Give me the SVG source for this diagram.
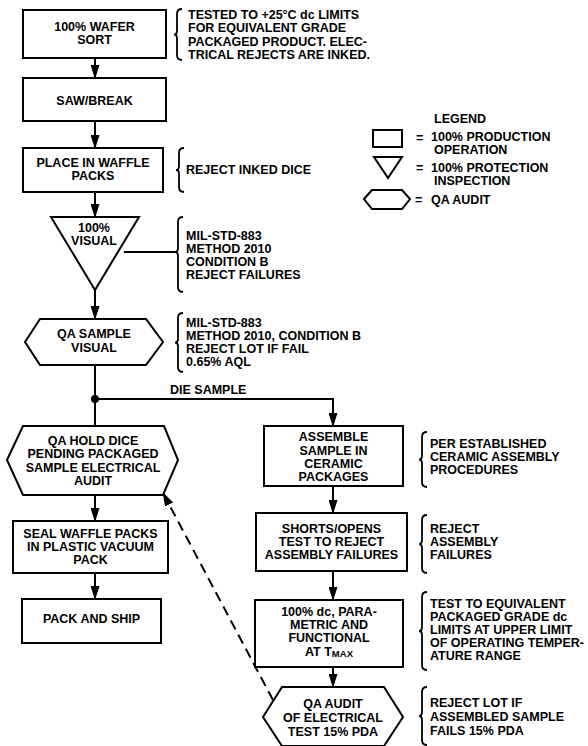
<svg xmlns="http://www.w3.org/2000/svg" width="588" height="746" viewBox="0 0 588 746">
<defs>
<marker id="arrow" markerUnits="userSpaceOnUse" markerWidth="14" markerHeight="9" refX="13" refY="4.5" orient="auto"><path d="M0,0 L14,4.5 L0,9 Z" fill="#000"/></marker>
</defs>
<style>
.shape{fill:#fff;stroke:#000;stroke-width:2;stroke-linejoin:miter}
.t{font-family:"Liberation Sans",Arial,sans-serif;font-weight:bold;font-size:12.5px;fill:#000}
.c{text-anchor:middle}
.sub{font-size:9.5px}
.wire{fill:none;stroke:#000;stroke-width:2}
.dash{stroke-dasharray:10 6}
.brace{fill:none;stroke:#000;stroke-width:1.8}
</style>
<rect width="588" height="746" fill="#fff"/>

<!-- connectors -->
<g id="connectors">
  <line class="wire" x1="95" y1="58" x2="95" y2="78" marker-end="url(#arrow)"/>
  <line class="wire" x1="95" y1="121" x2="95" y2="148" marker-end="url(#arrow)"/>
  <line class="wire" x1="95" y1="192" x2="95" y2="217" marker-end="url(#arrow)"/>
  <line class="wire" x1="95" y1="290" x2="95" y2="319" marker-end="url(#arrow)"/>
  <line class="wire" x1="95" y1="365" x2="95" y2="426"/>
  <circle cx="95" cy="399" r="4" fill="#000"/>
  <polyline class="wire" points="95,399 333,399 333,426" marker-end="url(#arrow)"/>
  <line class="wire" x1="95" y1="495" x2="95" y2="521" marker-end="url(#arrow)"/>
  <line class="wire" x1="95" y1="573" x2="95" y2="599" marker-end="url(#arrow)"/>
  <line class="wire" x1="333" y1="486" x2="333" y2="513" marker-end="url(#arrow)"/>
  <line class="wire" x1="333" y1="571" x2="333" y2="600" marker-end="url(#arrow)"/>
  <line class="wire" x1="333" y1="667" x2="333" y2="687" marker-end="url(#arrow)"/>
  <line class="wire dash" x1="273" y1="700" x2="163" y2="493" marker-end="url(#arrow)"/>
  <line class="wire" x1="124" y1="252" x2="175" y2="252"/>
  <text class="t" x="170" y="394">DIE SAMPLE</text>
</g>

<!-- left column -->
<g id="wafer-sort">
  <rect class="shape" x="23" y="10" width="143" height="48"/>
  <text class="t c" x="94.5" y="31">100% WAFER</text>
  <text class="t c" x="94.5" y="44">SORT</text>
</g>
<g id="saw-break">
  <rect class="shape" x="23" y="78" width="143" height="43"/>
  <text class="t c" x="94.5" y="105">SAW/BREAK</text>
</g>
<g id="waffle-packs">
  <rect class="shape" x="23" y="148" width="140" height="44"/>
  <text class="t c" x="93" y="167">PLACE IN WAFFLE</text>
  <text class="t c" x="93" y="180">PACKS</text>
</g>
<g id="visual-100">
  <polygon class="shape" points="51,217 139,217 95,290"/>
  <text class="t c" x="94" y="232">100%</text>
  <text class="t c" x="94" y="245">VISUAL</text>
</g>
<g id="qa-sample-visual">
  <polygon class="shape" points="25,342 40,319 146,319 163,342 146,365 40,365"/>
  <text class="t c" x="94" y="338">QA SAMPLE</text>
  <text class="t c" x="94" y="352">VISUAL</text>
</g>
<g id="qa-hold">
  <polygon class="shape" points="7,460 23,426 164,426 178,460 163,495 23,495"/>
  <text class="t c" x="93" y="445">QA HOLD DICE</text>
  <text class="t c" x="93" y="458">PENDING PACKAGED</text>
  <text class="t c" x="93" y="472">SAMPLE ELECTRICAL</text>
  <text class="t c" x="93" y="485">AUDIT</text>
</g>
<g id="seal-packs">
  <rect class="shape" x="13" y="521" width="155" height="52"/>
  <text class="t c" x="90.5" y="538">SEAL WAFFLE PACKS</text>
  <text class="t c" x="90.5" y="551">IN PLASTIC VACUUM</text>
  <text class="t c" x="90.5" y="564">PACK</text>
</g>
<g id="pack-ship">
  <rect class="shape" x="22" y="599" width="139" height="44"/>
  <text class="t c" x="91.5" y="623">PACK AND SHIP</text>
</g>

<!-- right column -->
<g id="assemble">
  <rect class="shape" x="264" y="426" width="139" height="60"/>
  <text class="t c" x="333.5" y="441">ASSEMBLE</text>
  <text class="t c" x="333.5" y="454.5">SAMPLE IN</text>
  <text class="t c" x="333.5" y="468">CERAMIC</text>
  <text class="t c" x="333.5" y="481">PACKAGES</text>
</g>
<g id="shorts-opens">
  <rect class="shape" x="256" y="513" width="151" height="58"/>
  <text class="t c" x="331.5" y="533">SHORTS/OPENS</text>
  <text class="t c" x="331.5" y="546">TEST TO REJECT</text>
  <text class="t c" x="331.5" y="559">ASSEMBLY FAILURES</text>
</g>
<g id="dc-parametric">
  <rect class="shape" x="255" y="600" width="148" height="67"/>
  <text class="t c" x="329" y="616">100% dc, PARA-</text>
  <text class="t c" x="329" y="629">METRIC AND</text>
  <text class="t c" x="329" y="642">FUNCTIONAL</text>
  <text class="t c" x="329" y="656">AT T<tspan class="sub" dy="1">MAX</tspan></text>
</g>
<g id="qa-audit-electrical">
  <polygon class="shape" points="263,717 282,687 384,687 403,717 384,746 282,746"/>
  <text class="t c" x="333" y="708">QA AUDIT</text>
  <text class="t c" x="333" y="722">OF ELECTRICAL</text>
  <text class="t c" x="333" y="736">TEST 15% PDA</text>
</g>

<!-- notes -->
<g id="note-wafer">
  <path class="brace" d="M182 9 Q177 9 177 14 L177 30.5 Q177 34.5 174 34.5 Q177 34.5 177 38.5 L177 55 Q177 60 182 60"/>
  <text class="t" x="188" y="19">TESTED TO +25°C dc LIMITS</text>
  <text class="t" x="188" y="32">FOR EQUIVALENT GRADE</text>
  <text class="t" x="188" y="45.5">PACKAGED PRODUCT. ELEC-</text>
  <text class="t" x="188" y="58.5">TRICAL REJECTS ARE INKED.</text>
</g>
<g id="note-waffle">
  <path class="brace" d="M184 148 Q179 148 179 153 L179 166 Q179 170 176 170 Q179 170 179 174 L179 187 Q179 192 184 192"/>
  <text class="t" x="186" y="174">REJECT INKED DICE</text>
</g>
<g id="note-visual">
  <path class="brace" d="M183 217 Q178 217 178 222 L178 248 Q178 252 175 252 Q178 252 178 256 L178 287 Q178 292 183 292"/>
  <text class="t" x="186" y="240">MIL-STD-883</text>
  <text class="t" x="186" y="253">METHOD 2010</text>
  <text class="t" x="186" y="266">CONDITION B</text>
  <text class="t" x="186" y="279">REJECT FAILURES</text>
</g>
<g id="note-sample-visual">
  <path class="brace" d="M183 313 Q178 313 178 318 L178 338.5 Q178 342.5 175 342.5 Q178 342.5 178 346.5 L178 367 Q178 372 183 372"/>
  <text class="t" x="186" y="327">MIL-STD-883</text>
  <text class="t" x="186" y="340">METHOD 2010, CONDITION B</text>
  <text class="t" x="186" y="353">REJECT LOT IF FAIL</text>
  <text class="t" x="186" y="366">0.65% AQL</text>
</g>
<g id="note-assemble">
  <path class="brace" d="M427 432 Q422 432 422 437 L422 455.5 Q422 459.5 419 459.5 Q422 459.5 422 463.5 L422 482 Q422 487 427 487"/>
  <text class="t" x="430" y="448">PER ESTABLISHED</text>
  <text class="t" x="430" y="461">CERAMIC ASSEMBLY</text>
  <text class="t" x="430" y="474">PROCEDURES</text>
</g>
<g id="note-shorts">
  <path class="brace" d="M427 515 Q422 515 422 520 L422 540 Q422 544 419 544 Q422 544 422 548 L422 568 Q422 573 427 573"/>
  <text class="t" x="430" y="533">REJECT</text>
  <text class="t" x="430" y="546">ASSEMBLY</text>
  <text class="t" x="430" y="559">FAILURES</text>
</g>
<g id="note-dc">
  <path class="brace" d="M427 592 Q422 592 422 597 L422 627 Q422 631 419 631 Q422 631 422 635 L422 665 Q422 670 427 670"/>
  <text class="t" x="430" y="608">TEST TO EQUIVALENT</text>
  <text class="t" x="430" y="621">PACKAGED GRADE dc</text>
  <text class="t" x="430" y="634">LIMITS AT UPPER LIMIT</text>
  <text class="t" x="430" y="647">OF OPERATING TEMPER-</text>
  <text class="t" x="430" y="660">ATURE RANGE</text>
</g>
<g id="note-audit">
  <path class="brace" d="M427 687 Q422 687 422 692 L422 712 Q422 716 419 716 Q422 716 422 720 L422 740 Q422 745 427 745"/>
  <text class="t" x="430" y="707">REJECT LOT IF</text>
  <text class="t" x="430" y="721">ASSEMBLED SAMPLE</text>
  <text class="t" x="430" y="735">FAILS 15% PDA</text>
</g>

<!-- legend -->
<g id="legend">
  <text class="t" x="434" y="123">LEGEND</text>
  <rect class="shape" x="373" y="130" width="29" height="17"/>
  <text class="t" x="416" y="142">=</text>
  <text class="t" x="431" y="141">100% PRODUCTION</text>
  <text class="t" x="434" y="154">OPERATION</text>
  <polygon class="shape" points="374,157 402,157 388,178"/>
  <text class="t" x="416" y="172">=</text>
  <text class="t" x="431" y="172">100% PROTECTION</text>
  <text class="t" x="434" y="185">INSPECTION</text>
  <polygon class="shape" points="364,199 372,190 402,190 410,199 402,209 372,209"/>
  <text class="t" x="415" y="204">=</text>
  <text class="t" x="431" y="204">QA AUDIT</text>
</g>
</svg>
